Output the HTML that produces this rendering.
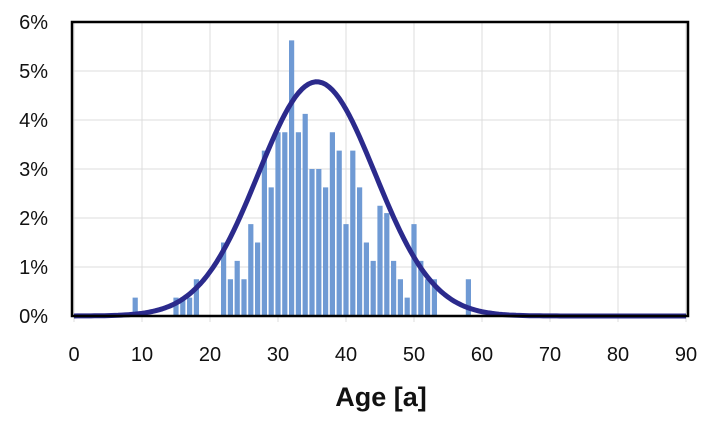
<!DOCTYPE html>
<html><head><style>body{margin:0;background:#fff}</style></head><body>
<svg id="s" width="720" height="421" xmlns="http://www.w3.org/2000/svg" font-family="Liberation Sans, Arial, sans-serif">
<g id="grid" stroke="#dcdcdc" stroke-width="1"></g>
<g id="bars" fill="#6f9ad4"></g>
<path id="curve" fill="none" stroke="#2b2a8c" stroke-width="5" stroke-linejoin="round"/>
<rect x="72" y="22" width="616" height="294" fill="none" stroke="#000" stroke-width="2.5"/>
<g id="lab" font-size="20" fill="#111"></g>
<text x="381" y="406" font-size="27" font-weight="bold" text-anchor="middle" fill="#111">Age [a]</text>
</svg>
<script>
var X=function(a){return 74+6.8*a},Y=function(p){return 316-49*p};
var g=document.getElementById('grid'),l=document.getElementById('lab'),b=document.getElementById('bars'),h='',t='',bb='';
for(var i=0;i<=9;i++){h+='<line x1="'+X(i*10)+'" x2="'+X(i*10)+'" y1="22" y2="322"/>';t+='<text x="'+X(i*10)+'" y="361" text-anchor="middle">'+i*10+'</text>';}
for(var j=0;j<=6;j++){h+='<line x1="72" x2="688" y1="'+Y(j)+'" y2="'+Y(j)+'"/>';t+='<text x="48" y="'+(Y(j)+7)+'" text-anchor="end">'+j+'%</text>';}
g.innerHTML=h;l.innerHTML=t;
var d={9:.375,15:.375,16:.375,17:.375,18:.75,22:1.5,23:.75,24:1.125,25:.75,26:1.875,27:1.5,28:3.375,29:2.625,30:3.75,31:3.75,32:5.625,33:3.75,34:4.125,35:3,36:3,37:2.625,38:3.75,39:3.375,40:1.875,41:3.375,42:2.625,43:1.5,44:1.125,45:2.25,46:2.1,47:1.125,48:.75,49:.375,50:1.875,51:1.125,52:.75,53:.75,58:.75};
for(var k in d){bb+='<rect x="'+(X(+k)-2.6)+'" y="'+Y(d[k])+'" width="5.2" height="'+(49*d[k])+'"/>';}
b.innerHTML=bb;
var p='';for(var a=0;a<=90;a+=0.5){var v=4.78*Math.exp(-Math.pow(a-35.7,2)/(2*8.6*8.6));p+=(a?'L':'M')+X(a).toFixed(1)+' '+Y(v).toFixed(1);}
document.getElementById('curve').setAttribute('d',p);
</script>
</body></html>
